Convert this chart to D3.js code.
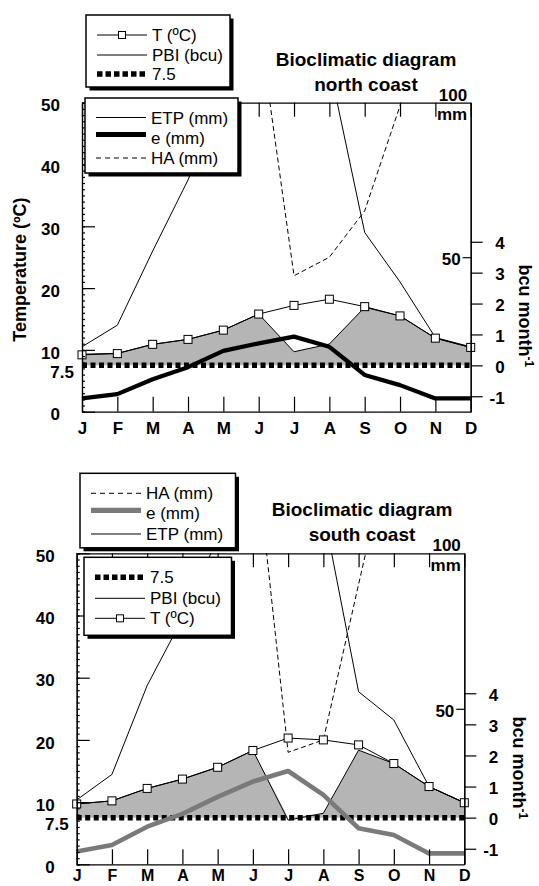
<!DOCTYPE html>
<html>
<head>
<meta charset="utf-8">
<script src="https://d3js.org/d3.v7.min.js"></script>
<style>
body { margin: 0; background: #fff; }
svg text { font-family: "Liberation Sans", Arial, Helvetica, sans-serif; fill: #000; }
</style>
</head>
<body>
<svg id="chart" width="539" height="886"></svg>
<script>
var months = ["J", "F", "M", "A", "M", "J", "J", "A", "S", "O", "N", "D"];
var tempTicks = [0, 10, 20, 30, 40, 50];
var bcuTicks = [-1, 0, 1, 2, 3, 4];
var mmTicks = [50];
var threshold = 7.5;

// north coast
var northT = [9.2, 9.4, 10.9, 11.7, 13.2, 15.8, 17.2, 18.2, 17.0, 15.5, 11.9, 10.4];
var northPBI = [0.36, 0.39, 0.68, 0.84, 1.14, 1.66, 0.44, 0.69, 1.88, 1.6, 0.88, 0.58];
var northETP = [21, 28, 52, 75, 102, 120, 130, 112, 58, 42, 24, 21];
var northE = [4.3, 5.7, 10.5, 14.4, 19.7, 22.1, 24.3, 21, 11.9, 8.6, 4.3, 4.3];
var northHA = [150, 150, 150, 150, 150, 126, 44, 50, 65, 99, 150, 150];

// south coast
var southT = [9.7, 10.2, 12.2, 13.7, 15.6, 18.3, 20.3, 20.0, 19.2, 16.2, 12.5, 9.9];
var southPBI = [0.44, 0.54, 0.94, 1.24, 1.62, 2.16, -0.08, 0.14, 2.17, 1.74, 1.0, 0.48];
var southETP = [20.7, 28.9, 57.5, 79, 105, 125, 135, 113.7, 55.5, 46.4, 25, 19.8];
var southE = [4.1, 6.2, 12.1, 16.2, 21.7, 26.6, 30.0, 22.3, 11.6, 9.4, 3.5, 3.5];
var southHA = [160, 160, 160, 160, 160, 141, 36, 40, 90, 140, 160, 160];

var seriesLabels = {T: "T (ºC)", PBI: "PBI (bcu)", dots: "7.5", ETP: "ETP (mm)", e: "e (mm)", HA: "HA (mm)"};
var northLegendA = ["T", "PBI", "dots"];
var northLegendB = ["ETP", "e", "HA"];
var southLegendA = ["HA", "e", "ETP"];
var southLegendB = ["dots", "PBI", "T"];

var svg = d3.select("#chart");

var panels = [
    {id: "north", left: 82, right: 470.7, top: 102.7, bottom: 411.7,
     temp: northT, pbi: northPBI, etp: northETP, e: northE, ha: northHA,
     eColor: "#000", eWidth: 4.2, place: "north coast", titleX: 366, yLabel: true,
     monthPad: 10, monthSize: 17,
     legends: [
        {x: 86, y: 15, w: 144, h: 72, keys: northLegendA, rowY: [20, 40, 59]},
        {x: 85, y: 98, w: 153, h: 75, keys: northLegendB, rowY: [19.5, 39.5, 60]}
     ]},
    {id: "south", left: 76.7, right: 464.3, top: 553.3, bottom: 864.3,
     temp: southT, pbi: southPBI, etp: southETP, e: southE, ha: southHA,
     eColor: "#7a7a7a", eWidth: 4.6, place: "south coast", titleX: 362, yLabel: false,
     monthPad: 5, monthSize: 16,
     legends: [
        {x: 80, y: 473.3, w: 155.5, h: 74.5, keys: southLegendA, rowY: [20, 40, 60.7]},
        {x: 84, y: 557.3, w: 147.5, h: 78, keys: southLegendB, rowY: [20, 41, 61]}
     ]}
];

function styleAxis(sel) {
    sel.select(".domain").attr("stroke-width", 1.2);
    sel.selectAll(".tick line").attr("stroke-width", 1.2);
    sel.attr("font-family", null);
    sel.selectAll("text").attr("font-size", 17).attr("font-weight", "bold");
}

function drawLegend(g, L, p) {
    var lg = g.append("g").attr("transform", "translate(" + L.x + "," + L.y + ")");
    lg.append("rect").attr("x", 3.5).attr("y", 3.5)
        .attr("width", L.w).attr("height", L.h).attr("fill", "#000");
    lg.append("rect").attr("width", L.w).attr("height", L.h)
        .attr("fill", "#fff").attr("stroke", "#000").attr("stroke-width", 1.5);

    L.keys.forEach(function (k, i) {
        var y = L.rowY[i];
        var ly = k == "e" ? y - 3 : y;
        var s = lg.append("line")
            .attr("x1", 11).attr("x2", 61).attr("y1", ly).attr("y2", ly)
            .attr("stroke", "#000").attr("stroke-width", 1);
        if (k == "e") s.attr("stroke", p.eColor).attr("stroke-width", p.eWidth + 0.6);
        if (k == "HA") s.attr("stroke-dasharray", "5,4");
        if (k == "dots") s.attr("stroke-width", 5.5).attr("stroke-dasharray", "5.5,3");
        if (k == "T") {
            lg.append("rect").attr("x", 36 - 3.5).attr("y", y - 3.5)
                .attr("width", 7).attr("height", 7)
                .attr("fill", "#fff").attr("stroke", "#000").attr("stroke-width", 1);
        }
        lg.append("text").attr("x", 66).attr("y", y).attr("dy", "0.36em")
            .attr("font-size", 17).text(seriesLabels[k]);
    });
}

function drawPanel(p) {
    var x = d3.scaleLinear().domain([0, 11]).range([p.left, p.right]);
    var yT = d3.scaleLinear().domain([0, 50]).range([p.bottom, p.top]);
    var yMM = d3.scaleLinear().domain([0, 100]).range([p.bottom, p.top]);
    // 1 bcu = 5 ºC above 7.5 ºC
    var yBcu = d3.scaleLinear().domain([-1.5, 8.5]).range([p.bottom, p.top]);

    var g = svg.append("g");
    var clipId = "clip-" + p.id;
    g.append("clipPath").attr("id", clipId).append("rect")
        .attr("x", p.left).attr("y", p.top)
        .attr("width", p.right - p.left).attr("height", p.bottom - p.top);

    var area = d3.area()
        .x(function (d, i) { return x(i); })
        .y0(yBcu(0))
        .y1(function (d) { return yBcu(Math.max(0, d)); });
    g.append("path").datum(p.pbi).attr("d", area).attr("fill", "#b5b5b5");

    g.append("line")
        .attr("x1", x(0)).attr("x2", x(11))
        .attr("y1", yT(threshold)).attr("y2", yT(threshold))
        .attr("stroke", "#000").attr("stroke-width", 5.5)
        .attr("stroke-dasharray", "5,3.5");

    function lineOn(scale) {
        return d3.line().x(function (d, i) { return x(i); }).y(function (d) { return scale(d); });
    }

    g.append("path").datum(p.pbi).attr("d", lineOn(yBcu))
        .attr("fill", "none").attr("stroke", "#000").attr("stroke-width", 1);
    g.append("path").datum(p.temp).attr("d", lineOn(yT))
        .attr("fill", "none").attr("stroke", "#000").attr("stroke-width", 1);

    var clipped = g.append("g").attr("clip-path", "url(#" + clipId + ")");
    clipped.append("path").datum(p.etp).attr("d", lineOn(yMM))
        .attr("fill", "none").attr("stroke", "#000").attr("stroke-width", 1);
    clipped.append("path").datum(p.ha).attr("d", lineOn(yMM))
        .attr("fill", "none").attr("stroke", "#000").attr("stroke-width", 1)
        .attr("stroke-dasharray", "5,3");

    g.append("path").datum(p.e).attr("d", lineOn(yMM))
        .attr("fill", "none").attr("stroke", p.eColor)
        .attr("stroke-width", p.eWidth).attr("stroke-linejoin", "round");

    g.selectAll("rect.sq").data(p.temp).join("rect")
        .attr("class", "sq")
        .attr("x", function (d, i) { return x(i) - 4; })
        .attr("y", function (d) { return yT(d) - 4; })
        .attr("width", 8).attr("height", 8)
        .attr("fill", "#fff").attr("stroke", "#000").attr("stroke-width", 1);

    // left axis: minor + major ticks
    g.append("g").attr("transform", "translate(" + p.left + ",0)")
        .call(d3.axisLeft(yT).tickValues(d3.range(0, 51)).tickSize(-3).tickFormat(""))
        .call(styleAxis);
    var left = g.append("g").attr("transform", "translate(" + p.left + ",0)")
        .call(d3.axisLeft(yT).tickValues(tempTicks).tickSizeInner(-13).tickSizeOuter(0).tickPadding(22))
        .call(styleAxis);
    left.selectAll("text").attr("dy", "0.48em");
    g.append("text").attr("x", p.left - 8).attr("y", yT(threshold)).attr("dy", "0.72em")
        .attr("text-anchor", "end").attr("font-size", 17).attr("font-weight", "bold")
        .text(String(threshold));

    // top and bottom month axes
    g.append("g").attr("transform", "translate(0," + p.top + ")")
        .call(d3.axisBottom(x).tickValues(d3.range(12)).tickSize(14).tickSizeOuter(0).tickFormat(""))
        .call(styleAxis);
    var bottom = g.append("g").attr("transform", "translate(0," + p.bottom + ")")
        .call(d3.axisBottom(x).tickValues(d3.range(12)).tickSizeInner(-15).tickSizeOuter(0)
            .tickPadding(p.monthPad).tickFormat(function (i) { return months[i]; }))
        .call(styleAxis);
    bottom.selectAll("text").attr("font-size", p.monthSize);

    // right axes: bcu outside, mm inside
    var right = g.append("g").attr("transform", "translate(" + p.right + ",0)")
        .call(d3.axisRight(yBcu).tickValues(bcuTicks).tickSize(12).tickSizeOuter(0)
            .tickFormat(function (d) { return String(d); }))
        .call(styleAxis);
    right.selectAll("text").attr("text-anchor", "end").attr("x", 34).attr("dy", "0.4em");
    var mm = g.append("g").attr("transform", "translate(" + p.right + ",0)")
        .call(d3.axisLeft(yMM).tickValues(mmTicks).tickSize(8).tickSizeOuter(0).tickPadding(2))
        .call(styleAxis);
    mm.selectAll("text").attr("dy", "0.45em");
    g.append("text").attr("x", p.right - 3.5).attr("y", p.top - 2)
        .attr("text-anchor", "end").attr("font-size", 17).attr("font-weight", "bold").text("100");
    g.append("text").attr("x", p.right - 3.5).attr("y", p.top + 17.5)
        .attr("text-anchor", "end").attr("font-size", 17).attr("font-weight", "bold").text("mm");

    var bcuLabel = g.append("text")
        .attr("transform", "translate(" + (p.right + 48.5) + "," + (yBcu(1.6)) + ") rotate(90)")
        .attr("text-anchor", "middle").attr("font-size", 18).attr("font-weight", "bold");
    bcuLabel.append("tspan").text("bcu month");
    bcuLabel.append("tspan").attr("dy", "-0.5em").attr("font-size", 12).text("-1");

    if (p.yLabel) {
        g.append("text")
            .attr("transform", "translate(26," + yT(23) + ") rotate(-90)")
            .attr("text-anchor", "middle").attr("font-size", 18).attr("font-weight", "bold")
            .text("Temperature (ºC)");
    }

    g.append("text").attr("x", p.titleX).attr("y", p.top - 37)
        .attr("text-anchor", "middle").attr("font-size", 19).attr("font-weight", "bold")
        .text("Bioclimatic diagram");
    g.append("text").attr("x", p.titleX).attr("y", p.top - 12)
        .attr("text-anchor", "middle").attr("font-size", 19).attr("font-weight", "bold")
        .text(p.place);

    p.legends.forEach(function (L) { drawLegend(g, L, p); });
}

panels.forEach(drawPanel);
</script>
</body>
</html>
